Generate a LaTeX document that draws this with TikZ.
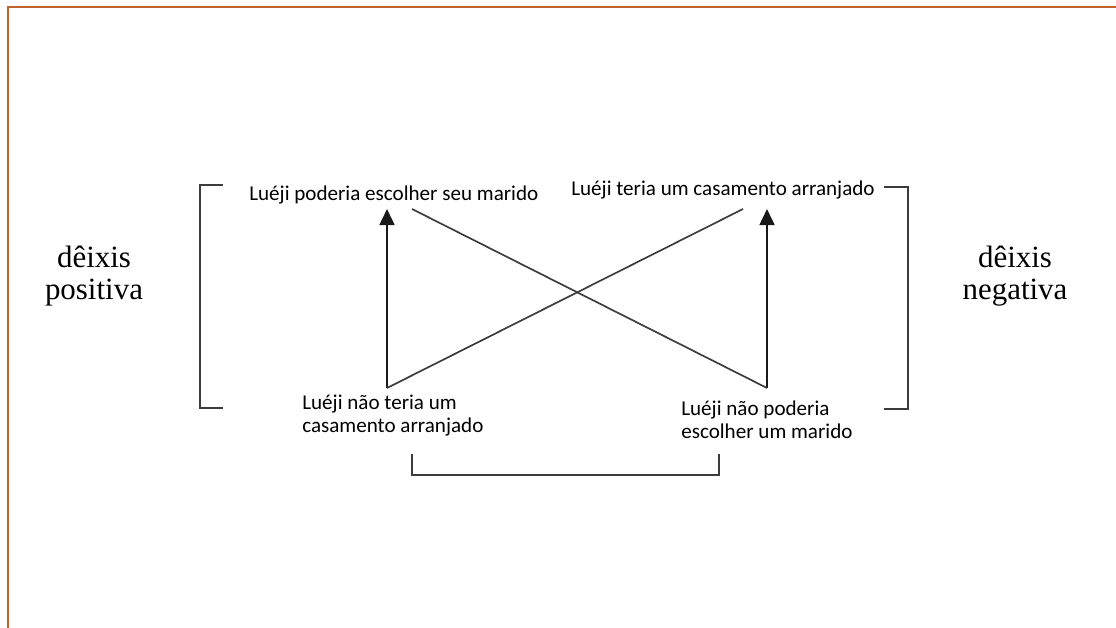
\documentclass[tikz,border=0pt]{standalone}
\usepackage{fontspec}
\setmainfont{Carlito}
\newfontfamily\deixisfont{Liberation Serif}
\usetikzlibrary{arrows.meta, positioning}
\definecolor{framebrown}{RGB}{192,98,48}
\definecolor{lineblack}{RGB}{25,25,25}
\definecolor{linegray}{RGB}{60,60,60}
\tikzstyle{proposition} = [inner sep=0pt, align=left,
font=\fontsize{15}{17}\selectfont]
\tikzstyle{deixis} = [inner sep=0pt, align=center,
font=\deixisfont\fontsize{22}{23}\selectfont]
\tikzstyle{arrow} = [-{Triangle[length=4mm, width=3.7mm]}, line width=1.6pt, draw=lineblack]
\tikzstyle{cross} = [line width=1.2pt, draw=linegray]
\tikzstyle{bracket} = [line width=1.4pt, draw=linegray]

\begin{document}
\begin{tikzpicture}[x=0.025cm, y=-0.025cm]
    \useasboundingbox (0,0) rectangle (1116,628);
    \draw[framebrown, line width=2pt] (8,628) -- (8,7) -- (1116,7);

    % the four propositions
    \node (s1)  [proposition, anchor=base west] at (249,201) {Luéji poderia escolher seu marido};
    \node (s2)  [proposition, anchor=base west] at (571,196) {Luéji teria um casamento arranjado};
    \node (ns2) [proposition, anchor=base west] at (302,433) {Luéji não teria um\\casamento arranjado};
    \node (ns1) [proposition, anchor=base west] at (681,439) {Luéji não poderia\\escolher um marido};

    \node (pos) [deixis, anchor=base] at (94,300) {dêixis\\positiva};
    \node (neg) [deixis, anchor=base] at (1015,300) {dêixis\\negativa};

    \coordinate (bl) at (387,388);
    \coordinate (br) at (767,388);
    \coordinate (tl) at (387,209);
    \coordinate (tr) at (767,209);

    \draw[arrow] (bl) -- (tl);
    \draw[arrow] (br) -- (tr);
    \draw[cross] (bl) -- (743,209);
    \draw[cross] (br) -- (412,209);

    % brackets
    \draw[bracket] (223,185) -- (200,185) -- (200,408) -- (223,408);
    \draw[bracket] (884,187) -- (908,187) -- (908,409) -- (884,409);
    \draw[bracket] (412,454) -- (412,475) -- (719,475) -- (719,454);
\end{tikzpicture}
\end{document}
